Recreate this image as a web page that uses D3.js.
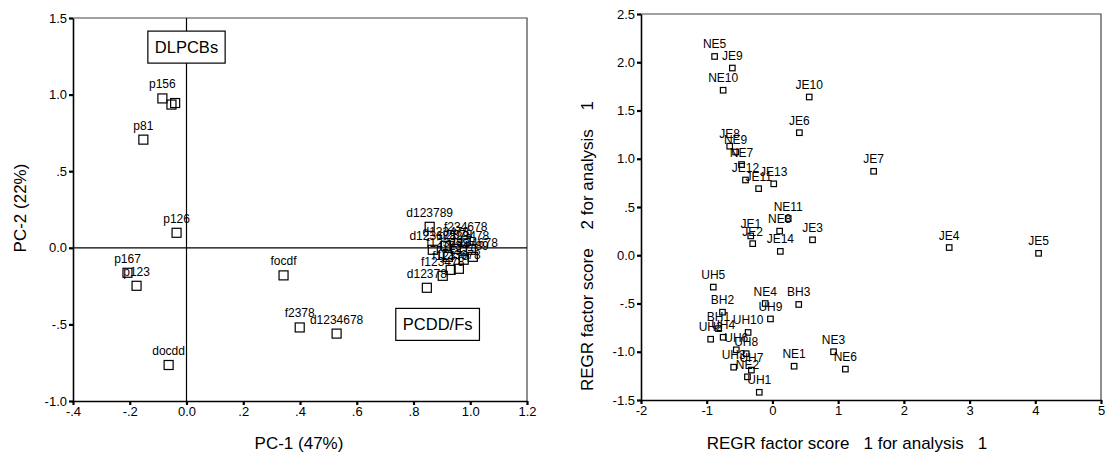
<!DOCTYPE html>
<html>
<head>
<meta charset="utf-8">
<script src="https://cdn.jsdelivr.net/npm/d3@7"></script>
<style>
	body { margin: 0; background: #fff; }
	text { font-family: "Liberation Sans", Arial, sans-serif; fill: #000; }
</style>
</head>
<body>
<svg id="chart" width="1106" height="460"></svg>
<script>
// left panel: component loadings
var pcaNames = ["p156", "", "", "p81", "p126", "p167", "p123", "docdd", "focdf", "f2378", "d1234678",
	"d12378", "f123478", "f12378", "f123678", "f1234789", "d123789", "f234678", "d123678", "d123478",
	"d2378", "f23478", "f123789", "f1234678"];
var pcaX = [-0.085, -0.053, -0.040, -0.152, -0.035, -0.208, -0.176, -0.063, 0.342, 0.399, 0.529,
	0.847, 0.903, 0.931, 0.960, 0.977, 0.857, 0.984, 0.868, 0.914,
	0.949, 1.002, 0.921, 1.009];
var pcaY = [0.975, 0.935, 0.945, 0.706, 0.098, -0.163, -0.248, -0.765, -0.180, -0.520, -0.560,
	-0.261, -0.183, -0.144, -0.137, -0.078, 0.137, 0.046, -0.013, 0.013,
	-0.007, -0.013, -0.059, -0.059];
var pcaXTicks = [-0.4, -0.2, 0, 0.2, 0.4, 0.6, 0.8, 1.0, 1.2];
var pcaXTickLabels = ["-.4", "-.2", "0.0", ".2", ".4", ".6", ".8", "1.0", "1.2"];
var pcaYTicks = [-1.0, -0.5, 0, 0.5, 1.0, 1.5];
var pcaYTickLabels = ["-1.0", "-.5", "0.0", ".5", "1.0", "1.5"];
var groupNames = ["DLPCBs", "PCDD/Fs"];
var groupX = [0, 0.885];
var groupY = [1.31, -0.50];

// right panel: regression factor scores
var scoreNames = ["NE5", "JE9", "NE10", "JE10", "JE6", "JE8", "NE9", "NE7", "JE12", "JE11", "JE13", "JE7",
	"NE11", "NE8", "JE1", "JE2", "JE3", "JE14", "JE4", "JE5", "UH5", "NE4", "BH3", "BH2", "UH9",
	"BH1", "UH10", "UH4", "UH2", "UH6", "UH8", "NE3", "NE1", "UH3", "UH7", "NE6", "NE2", "UH1"];
var scoreX = [-0.88, -0.61, -0.75, 0.56, 0.41, -0.65, -0.56, -0.47, -0.41, -0.21, 0.02, 1.54,
	0.24, 0.11, -0.33, -0.30, 0.61, 0.12, 2.69, 4.05, -0.90, -0.11, 0.40, -0.76, -0.03,
	-0.82, -0.37, -0.75, -0.94, -0.55, -0.40, 0.93, 0.33, -0.59, -0.32, 1.11, -0.38, -0.20];
var scoreY = [2.06, 1.94, 1.71, 1.64, 1.27, 1.13, 1.07, 0.94, 0.78, 0.69, 0.74, 0.87,
	0.38, 0.25, 0.20, 0.12, 0.16, 0.04, 0.08, 0.02, -0.33, -0.50, -0.51, -0.59, -0.66,
	-0.76, -0.80, -0.85, -0.87, -0.98, -1.02, -1.00, -1.15, -1.16, -1.19, -1.18, -1.26, -1.42];
var scoreXTicks = [-2, -1, 0, 1, 2, 3, 4, 5];
var scoreXTickLabels = ["-2", "-1", "0", "1", "2", "3", "4", "5"];
var scoreYTicks = [-1.5, -1.0, -0.5, 0, 0.5, 1.0, 1.5, 2.0, 2.5];
var scoreYTickLabels = ["-1.5", "-1.0", "-.5", "0.0", ".5", "1.0", "1.5", "2.0", "2.5"];

var svg = d3.select("#chart");

var drawPanel = function(p) {
	var x = d3.scaleLinear().domain(p.xDomain).range([p.left, p.right]);
	var y = d3.scaleLinear().domain(p.yDomain).range([p.bottom, p.top]);
	var g = svg.append("g");

	// frame (top + right), the axes take the other two sides
	g.append("path")
		.attr("d", "M" + p.left + "," + p.top + "H" + p.right + "V" + p.bottom)
		.attr("fill", "none")
		.attr("stroke", "#444")
		.attr("stroke-width", 1.2);

	var styleAxis = function(a) {
		a.select(".domain").attr("stroke", "#000").attr("stroke-width", 1.6);
		a.selectAll(".tick line").attr("stroke", "#000").attr("stroke-width", 2.2);
		a.selectAll(".tick text").attr("font-size", 13);
	};

	var ax = g.append("g")
		.attr("transform", "translate(0," + p.bottom + ")")
		.call(d3.axisBottom(x).tickValues(p.xTicks)
			.tickFormat(function(d, i) { return p.xTickLabels[i]; })
			.tickSizeInner(4).tickSizeOuter(0).tickPadding(2));
	styleAxis(ax);
	var ay = g.append("g")
		.attr("transform", "translate(" + p.left + ",0)")
		.call(d3.axisLeft(y).tickValues(p.yTicks)
			.tickFormat(function(d, i) { return p.yTickLabels[i]; })
			.tickSizeInner(4).tickSizeOuter(0).tickPadding(2));
	styleAxis(ay);

	if (p.zeroLines) {
		g.append("line").attr("x1", x(0)).attr("x2", x(0)).attr("y1", p.top).attr("y2", p.bottom)
			.attr("stroke", "#000").attr("stroke-width", 1.2);
		g.append("line").attr("x1", p.left).attr("x2", p.right).attr("y1", y(0)).attr("y2", y(0))
			.attr("stroke", "#000").attr("stroke-width", 1.2);
	}

	// group boxes
	if (p.boxes) {
		p.boxes.names.forEach(function(name, i) {
			var b = g.append("g").attr("transform", "translate(" + x(p.boxes.x[i]) + "," + y(p.boxes.y[i]) + ")");
			var rect = b.append("rect").attr("fill", "#fff").attr("stroke", "#000").attr("stroke-width", 1.2);
			var t = b.append("text").attr("text-anchor", "middle").attr("dy", "0.36em")
				.attr("font-size", 16.5).text(name);
			var w = t.node().getBBox().width + 14;
			rect.attr("x", -w / 2).attr("y", -16).attr("width", w).attr("height", 32);
		});
	}

	var s = p.size;
	p.names.forEach(function(name, i) {
		var cx = x(p.xs[i]), cy = y(p.ys[i]);
		g.append("rect")
			.attr("x", cx - s / 2).attr("y", cy - s / 2)
			.attr("width", s).attr("height", s)
			.attr("fill", "none").attr("stroke", "#000").attr("stroke-width", 1.2);
		if (name) {
			g.append("text")
				.attr("x", cx).attr("y", cy - p.labelOffset)
				.attr("text-anchor", "middle")
				.attr("font-size", 12)
				.text(name);
		}
	});

	g.append("text")
		.attr("x", p.xTitleX).attr("y", 449)
		.attr("text-anchor", "middle")
		.attr("font-size", 17)
		.style("white-space", "pre")
		.text(p.xTitle);
	g.append("text")
		.attr("transform", "translate(" + p.yTitleX + "," + p.yTitleY + ") rotate(-90)")
		.attr("text-anchor", "middle")
		.attr("font-size", 17)
		.style("white-space", "pre")
		.text(p.yTitle);
};

drawPanel({
	left: 73, right: 527, top: 18, bottom: 401,
	xDomain: [-0.4, 1.2], yDomain: [-1.0, 1.5],
	xTicks: pcaXTicks, xTickLabels: pcaXTickLabels,
	yTicks: pcaYTicks, yTickLabels: pcaYTickLabels,
	names: pcaNames, xs: pcaX, ys: pcaY,
	size: 9, labelOffset: 10,
	zeroLines: true,
	boxes: { names: groupNames, x: groupX, y: groupY },
	xTitle: "PC-1 (47%)", xTitleX: 299,
	yTitle: "PC-2 (22%)", yTitleX: 26, yTitleY: 208
});

drawPanel({
	left: 641, right: 1101, top: 14, bottom: 400,
	xDomain: [-2, 5], yDomain: [-1.5, 2.5],
	xTicks: scoreXTicks, xTickLabels: scoreXTickLabels,
	yTicks: scoreYTicks, yTickLabels: scoreYTickLabels,
	names: scoreNames, xs: scoreX, ys: scoreY,
	size: 5.5, labelOffset: 8,
	zeroLines: false,
	xTitle: "REGR factor score   1 for analysis   1", xTitleX: 847,
	yTitle: "REGR factor score    2 for analysis    1", yTitleX: 593, yTitleY: 246
});
</script>
</body>
</html>
